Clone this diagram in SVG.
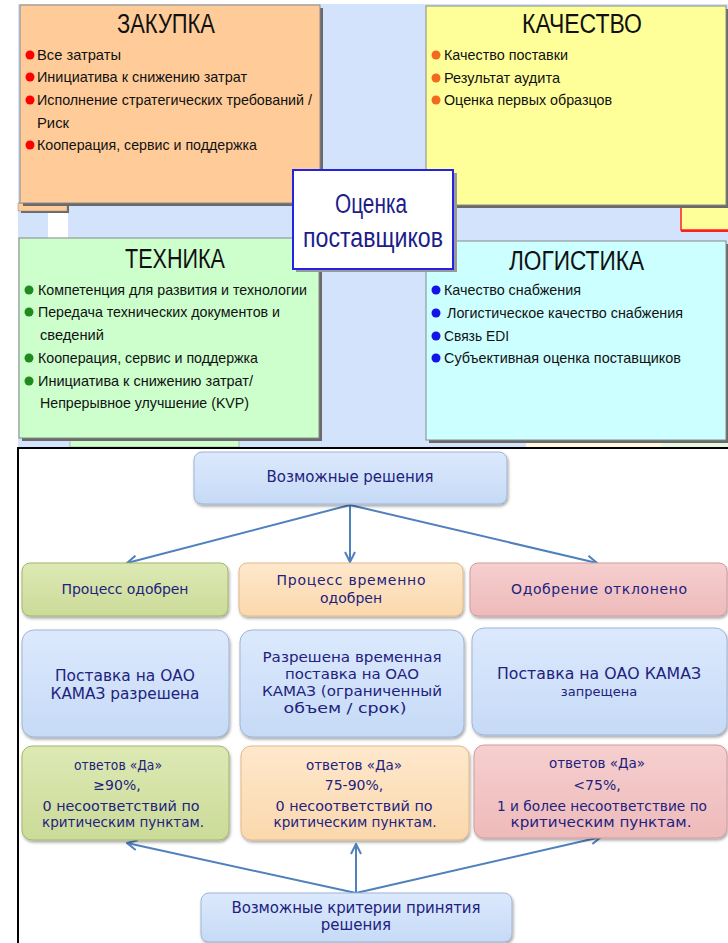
<svg xmlns="http://www.w3.org/2000/svg" width="728" height="943" viewBox="0 0 728 943">
<defs>
<style>
.tb{font-family:"Liberation Sans",Arial,sans-serif;fill:#111;}
.ttl{font-size:27px;}
.itm{font-size:15px;}
.cen{font-family:"Liberation Sans",Arial,sans-serif;font-size:27px;fill:#1c1c8a;}
.bt{font-family:"DejaVu Sans",Verdana,sans-serif;fill:#22227e;text-anchor:middle;}
.s15{font-size:15px;}
.s14{font-size:14px;}
.s13{font-size:13px;}
.sh{fill:#6a6a6a;}
.card{stroke:#888;stroke-width:1;}
.conn{stroke:#4f81bd;stroke-width:2;fill:none;marker-end:url(#ah);}
</style>
<marker id="ah" viewBox="0 0 12 12" refX="11" refY="6" markerWidth="12" markerHeight="12" markerUnits="userSpaceOnUse" orient="auto">
<path d="M1,1 L11,6 L1,11" fill="none" stroke="#4f81bd" stroke-width="2"/>
</marker>
<linearGradient id="gB" x1="0" y1="0" x2="0" y2="1"><stop offset="0" stop-color="#dce9fd"/><stop offset="1" stop-color="#c6daf6"/></linearGradient>
<linearGradient id="gG" x1="0" y1="0" x2="0" y2="1"><stop offset="0" stop-color="#dde9b4"/><stop offset="1" stop-color="#cbdb98"/></linearGradient>
<linearGradient id="gO" x1="0" y1="0" x2="0" y2="1"><stop offset="0" stop-color="#fee8cc"/><stop offset="1" stop-color="#fbd8ad"/></linearGradient>
<linearGradient id="gP" x1="0" y1="0" x2="0" y2="1"><stop offset="0" stop-color="#f6cfcf"/><stop offset="1" stop-color="#eebaba"/></linearGradient>
<filter id="ds" x="-10%" y="-10%" width="120%" height="130%"><feDropShadow dx="1" dy="2" stdDeviation="1.5" flood-color="#000" flood-opacity="0.35"/></filter>
</defs>

<!-- top background -->
<rect x="0" y="0" width="728" height="447" fill="#ffffff"/>
<rect x="18" y="4" width="710" height="443" fill="#d3e3fb"/>
<rect x="48" y="212" width="20" height="27" fill="#ffffff"/>
<rect x="70" y="438" width="169" height="9" fill="#ccffcc" stroke="#888" stroke-width="0.5"/>
<rect x="526" y="441" width="135" height="6" fill="#fff8dd"/>
<rect x="661" y="441" width="67" height="6" fill="#e6f8e0"/>
<!-- red-bordered box behind -->
<rect x="681" y="200" width="50" height="30" fill="#ffff99" stroke="#ff2020" stroke-width="1.5"/>
<line x1="681" y1="231" x2="728" y2="231" stroke="#ff2020" stroke-width="2"/>
<!-- peach sliver -->
<rect x="21" y="206" width="48" height="7" class="sh"/>
<rect x="18" y="203" width="49" height="8" fill="#ffcc99" stroke="#888" stroke-width="0.5"/>

<g id="zakupka">
<rect x="23" y="8" width="300" height="198" class="sh"/>
<rect x="20" y="5" width="300" height="198" fill="#ffcc99" class="card"/>
<text class="tb ttl" x="117" y="33" textLength="98" lengthAdjust="spacingAndGlyphs">ЗАКУПКА</text>
<g fill="#ff0000"><circle cx="30" cy="55" r="4.5"/><circle cx="30" cy="77" r="4.5"/><circle cx="30" cy="100" r="4.5"/><circle cx="30" cy="145" r="4.5"/></g>
<text class="tb itm" x="37" y="60" textLength="84" lengthAdjust="spacingAndGlyphs">Все затраты</text>
<text class="tb itm" x="37" y="82" textLength="210" lengthAdjust="spacingAndGlyphs">Инициатива к снижению затрат</text>
<text class="tb itm" x="37" y="105" textLength="275" lengthAdjust="spacingAndGlyphs">Исполнение стратегических требований /</text>
<text class="tb itm" x="37" y="128" textLength="32" lengthAdjust="spacingAndGlyphs">Риск</text>
<text class="tb itm" x="37" y="150" textLength="220" lengthAdjust="spacingAndGlyphs">Кооперация, сервис и поддержка</text>
</g>

<g id="kachestvo">
<rect x="429" y="9" width="300" height="199" class="sh"/>
<rect x="426" y="6" width="300" height="199" fill="#ffff99" class="card"/>
<text class="tb ttl" x="522" y="33" textLength="120" lengthAdjust="spacingAndGlyphs">КАЧЕСТВО</text>
<g fill="#f26b1d"><circle cx="436" cy="55" r="4.5"/><circle cx="436" cy="78" r="4.5"/><circle cx="436" cy="100" r="4.5"/></g>
<text class="tb itm" x="444" y="60" textLength="124" lengthAdjust="spacingAndGlyphs">Качество поставки</text>
<text class="tb itm" x="444" y="83" textLength="116" lengthAdjust="spacingAndGlyphs">Результат аудита</text>
<text class="tb itm" x="444" y="105" textLength="168" lengthAdjust="spacingAndGlyphs">Оценка первых образцов</text>
</g>

<g id="tehnika">
<rect x="22" y="241" width="300" height="200" class="sh"/>
<rect x="19" y="238" width="300" height="200" fill="#ccffcc" class="card"/>
<text class="tb ttl" x="125" y="268" textLength="100" lengthAdjust="spacingAndGlyphs">ТЕХНИКА</text>
<g fill="#1f8a1f"><circle cx="29" cy="290" r="4.5"/><circle cx="29" cy="312" r="4.5"/><circle cx="29" cy="358" r="4.5"/><circle cx="29" cy="381" r="4.5"/></g>
<text class="tb itm" x="38" y="295" textLength="269" lengthAdjust="spacingAndGlyphs">Компетенция для развития и технологии</text>
<text class="tb itm" x="38" y="317" textLength="242" lengthAdjust="spacingAndGlyphs">Передача технических документов и</text>
<text class="tb itm" x="40" y="340" textLength="64" lengthAdjust="spacingAndGlyphs">сведений</text>
<text class="tb itm" x="38" y="363" textLength="220" lengthAdjust="spacingAndGlyphs">Кооперация, сервис и поддержка</text>
<text class="tb itm" x="38" y="386" textLength="215" lengthAdjust="spacingAndGlyphs">Инициатива к снижению затрат/</text>
<text class="tb itm" x="40" y="408" textLength="209" lengthAdjust="spacingAndGlyphs">Непрерывное улучшение (KVP)</text>
</g>

<g id="logistika">
<rect x="429" y="244" width="300" height="199" class="sh"/>
<rect x="426" y="241" width="300" height="199" fill="#ccffff" class="card"/>
<text class="tb ttl" x="509" y="270" textLength="135" lengthAdjust="spacingAndGlyphs">ЛОГИСТИКА</text>
<g fill="#1414e6"><circle cx="436" cy="290" r="4.5"/><circle cx="436" cy="313" r="4.5"/><circle cx="436" cy="336" r="4.5"/><circle cx="436" cy="358" r="4.5"/></g>
<text class="tb itm" x="444" y="295" textLength="137" lengthAdjust="spacingAndGlyphs">Качество снабжения</text>
<text class="tb itm" x="447" y="318" textLength="236" lengthAdjust="spacingAndGlyphs">Логистическое качество снабжения</text>
<text class="tb itm" x="444" y="341" textLength="65" lengthAdjust="spacingAndGlyphs">Связь EDI</text>
<text class="tb itm" x="444" y="363" textLength="237" lengthAdjust="spacingAndGlyphs">Субъективная оценка поставщиков</text>
</g>

<g id="center">
<rect x="296" y="173" width="161" height="99" fill="#999"/>
<rect x="293" y="170" width="160" height="99" fill="#ffffff" stroke="#2424e0" stroke-width="2"/>
<text class="cen" x="335" y="213" textLength="72" lengthAdjust="spacingAndGlyphs">Оценка</text>
<text class="cen" x="303" y="247" textLength="140" lengthAdjust="spacingAndGlyphs">поставщиков</text>
</g>

<!-- bottom frame -->
<rect x="18" y="448" width="720" height="510" fill="#ffffff" stroke="#000" stroke-width="2"/>

<g id="connectors">
<line class="conn" x1="350" y1="505" x2="127" y2="563"/>
<line class="conn" x1="350" y1="505" x2="350" y2="562"/>
<line class="conn" x1="350" y1="505" x2="597" y2="563"/>
<line class="conn" x1="356" y1="893" x2="127" y2="843"/>
<line class="conn" x1="356" y1="893" x2="356" y2="844"/>
<line class="conn" x1="356" y1="893" x2="601" y2="837"/>
</g>

<g id="reshenia">
<rect x="194" y="452" width="313" height="52" rx="8" fill="url(#gB)" stroke="#9fb5d5" filter="url(#ds)"/>
<text class="bt s15" x="350" y="482" textLength="167" lengthAdjust="spacing">Возможные решения</text>
</g>

<g id="odobren">
<rect x="22" y="563" width="206" height="53" rx="8" fill="url(#gG)" stroke="#a5b56a" filter="url(#ds)"/>
<text class="bt s14" x="125" y="594" textLength="127" lengthAdjust="spacing">Процесс одобрен</text>
</g>
<g id="vremenno">
<rect x="239" y="563" width="224" height="53" rx="8" fill="url(#gO)" stroke="#e2b987" filter="url(#ds)"/>
<text class="bt s14" x="351" y="585" textLength="149" lengthAdjust="spacing">Процесс временно</text>
<text class="bt s14" x="351" y="603">одобрен</text>
</g>
<g id="otkloneno">
<rect x="470" y="563" width="257" height="53" rx="8" fill="url(#gP)" stroke="#d29b9b" filter="url(#ds)"/>
<text class="bt s14" x="599" y="594" textLength="176" lengthAdjust="spacing">Одобрение отклонено</text>
</g>

<g id="razreshena">
<rect x="22" y="630" width="207" height="107" rx="12" fill="url(#gB)" stroke="#9fb5d5" filter="url(#ds)"/>
<text class="bt s15" x="125" y="681" textLength="140" lengthAdjust="spacingAndGlyphs">Поставка на ОАО</text>
<text class="bt s15" x="125" y="699" textLength="149" lengthAdjust="spacingAndGlyphs">КАМАЗ разрешена</text>
</g>
<g id="vrem-razreshena">
<rect x="240" y="630" width="224" height="107" rx="12" fill="url(#gB)" stroke="#9fb5d5" filter="url(#ds)"/>
<text class="bt s14" x="352" y="662" textLength="179" lengthAdjust="spacingAndGlyphs">Разрешена временная</text>
<text class="bt s14" x="352" y="679" textLength="134" lengthAdjust="spacingAndGlyphs">поставка на ОАО</text>
<text class="bt s14" x="352" y="696" textLength="180" lengthAdjust="spacingAndGlyphs">КАМАЗ (ограниченный</text>
<text class="bt s14" x="345" y="713" textLength="123" lengthAdjust="spacingAndGlyphs">объем / срок)</text>
</g>
<g id="zapreshena">
<rect x="472" y="628" width="255" height="107" rx="12" fill="url(#gB)" stroke="#9fb5d5" filter="url(#ds)"/>
<text class="bt s15" x="599" y="679" textLength="204" lengthAdjust="spacingAndGlyphs">Поставка на ОАО КАМАЗ</text>
<text class="bt s13" x="599" y="696">запрещена</text>
</g>

<g id="krit-90">
<rect x="22" y="746" width="207" height="94" rx="10" fill="url(#gG)" stroke="#a5b56a" filter="url(#ds)"/>
<text class="bt s14" x="118" y="770" textLength="88" lengthAdjust="spacingAndGlyphs">ответов «Да»</text>
<text class="bt s14" x="117" y="790">≥90%,</text>
<text class="bt s14" x="121" y="811" textLength="157" lengthAdjust="spacingAndGlyphs">0 несоответствий по</text>
<text class="bt s14" x="123" y="827" textLength="162" lengthAdjust="spacingAndGlyphs">критическим пунктам.</text>
</g>
<g id="krit-75-90">
<rect x="241" y="746" width="228" height="94" rx="10" fill="url(#gO)" stroke="#e2b987" filter="url(#ds)"/>
<text class="bt s14" x="354" y="770" textLength="96" lengthAdjust="spacingAndGlyphs">ответов «Да»</text>
<text class="bt s14" x="354" y="790">75-90%,</text>
<text class="bt s14" x="354" y="811" textLength="157" lengthAdjust="spacingAndGlyphs">0 несоответствий по</text>
<text class="bt s14" x="355" y="827" textLength="163" lengthAdjust="spacingAndGlyphs">критическим пунктам.</text>
</g>
<g id="krit-75">
<rect x="474" y="745" width="253" height="93" rx="10" fill="url(#gP)" stroke="#d29b9b" filter="url(#ds)"/>
<text class="bt s14" x="597" y="768" textLength="96" lengthAdjust="spacingAndGlyphs">ответов «Да»</text>
<text class="bt s14" x="597" y="790">&lt;75%,</text>
<text class="bt s14" x="602" y="811" textLength="210" lengthAdjust="spacingAndGlyphs">1 и более несоответствие по</text>
<text class="bt s14" x="601" y="827" textLength="181" lengthAdjust="spacingAndGlyphs">критическим пунктам.</text>
</g>

<g id="kriterii">
<rect x="201" y="893" width="311" height="49" rx="8" fill="url(#gB)" stroke="#9fb5d5" filter="url(#ds)"/>
<text class="bt s15" x="356" y="913" textLength="249" lengthAdjust="spacing">Возможные критерии принятия</text>
<text class="bt s15" x="356" y="930">решения</text>
</g>
</svg>
